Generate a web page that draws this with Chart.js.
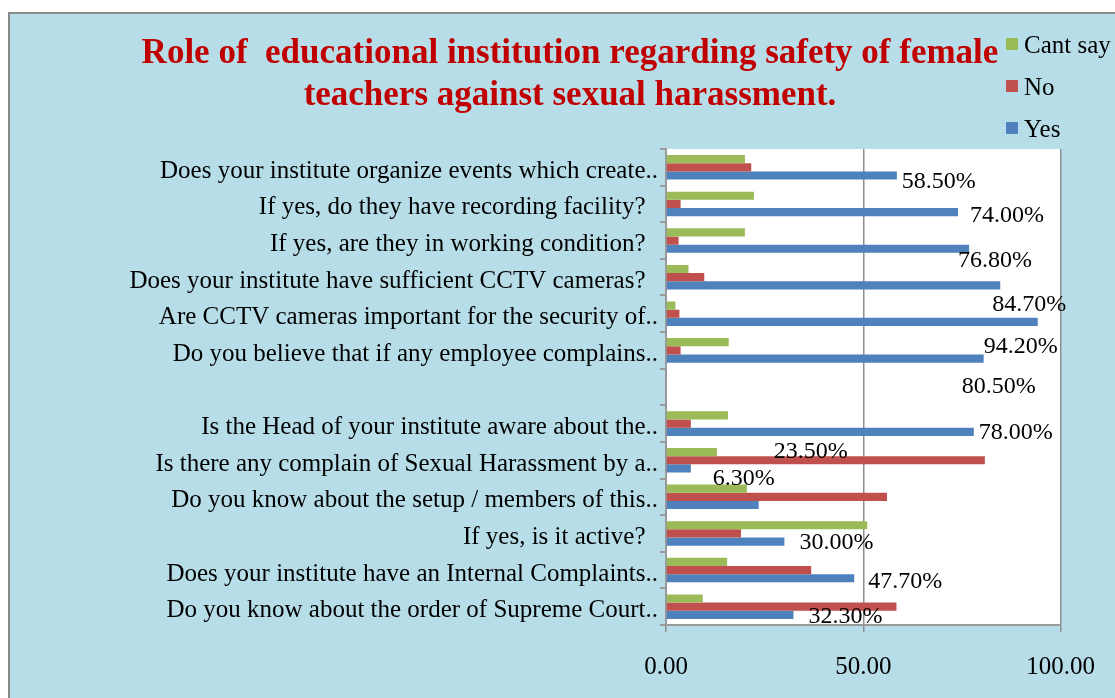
<!DOCTYPE html>
<html>
<head>
<meta charset="utf-8">
<script src="https://cdn.jsdelivr.net/npm/chart.js@4.4.1/dist/chart.umd.min.js"></script>
<style>
  html, body { margin: 0; padding: 0; background: #ffffff; }
  #wrap { width: 1115px; height: 698px; position: relative; }
  canvas { display: block; }
</style>
</head>
<body>
<div id="wrap"><canvas id="c" width="1115" height="698"></canvas></div>
<script>
// ---------- data ----------
const categories = [
  "Does your institute organize events which create..",
  "If yes, do they have recording facility?  ",
  "If yes, are they in working condition?  ",
  "Does your institute have sufficient CCTV cameras?  ",
  "Are CCTV cameras important for the security of..",
  "Do you believe that if any employee complains..",
  "",
  "Is the Head of your institute aware about the..",
  "Is there any complain of Sexual Harassment by a..",
  "Do you know about the setup / members of this..",
  "If yes, is it active?  ",
  "Does your institute have an Internal Complaints..",
  "Do you know about the order of Supreme Court.."
];
const seriesNames = ["Cant say", "No", "Yes"];
const cantSayValues = [20.0, 22.3, 20.0, 5.7, 2.4, 15.9, null, 15.7, 12.9, 20.5, 51.0, 15.5, 9.3];
const noValues      = [21.6, 3.7, 3.2, 9.7, 3.4, 3.7, null, 6.3, 80.8, 56.0, 19.0, 36.8, 58.4];
const yesValues     = [58.5, 74.0, 76.8, 84.7, 94.2, 80.5, null, 78.0, 6.3, 23.5, 30.0, 47.7, 32.3];
const xTickValues   = [0, 50, 100];
const titleLines = ["Role of  educational institution regarding safety of female", "teachers against sexual harassment."];

// label nudges (pixels, relative to end of the "Yes" bar) – placement only
const yesLabelNudge = [
  [5, 6], [12, 4], [-11, 12], [-8, 19], [-54, 25], [-22, 28], null,
  [5, 1], [22, 10], [15, -53], [15, 1], [14, 3], [15, 2]
];

const colors = { "Cant say": "#9BBB59", "No": "#C0504D", "Yes": "#4F81BD" };
const valuesBySeries = { "Cant say": cantSayValues, "No": noValues, "Yes": yesValues };
const SERIF = "'Liberation Serif', 'Times New Roman', serif";

const bgPlugin = {
  id: "bg",
  beforeDraw(chart) {
    const ctx = chart.ctx, a = chart.chartArea;
    ctx.save();
    ctx.fillStyle = "#ffffff";
    ctx.fillRect(0, 0, chart.width, chart.height);
    ctx.fillStyle = "#B7DEE8";
    ctx.fillRect(9, 13, chart.width, chart.height);
    ctx.strokeStyle = "#8A8A8A";
    ctx.lineWidth = 2;
    ctx.strokeRect(9, 13, chart.width + 10, chart.height + 10);
    ctx.fillStyle = "#ffffff";
    ctx.fillRect(a.left, a.top, a.right - a.left, a.bottom - a.top);
    ctx.restore();
  }
};

const textPlugin = {
  id: "texts",
  afterDraw(chart) {
    const ctx = chart.ctx;
    ctx.save();
    // title
    ctx.fillStyle = "#C00000";
    ctx.font = "bold 35px " + SERIF;
    ctx.textAlign = "center";
    ctx.textBaseline = "alphabetic";
    ctx.fillText(titleLines[0], 570, 63);
    ctx.fillText(titleLines[1], 570, 105);
    // legend
    ctx.font = "25px " + SERIF;
    ctx.textAlign = "left";
    seriesNames.forEach((name, i) => {
      const base = 53 + i * 42;
      ctx.fillStyle = colors[name];
      ctx.fillRect(1006, base - 15, 12, 12);
      ctx.fillStyle = "#000000";
      ctx.fillText(name, 1024, base);
    });
    // yes value labels
    const yesIdx = seriesNames.indexOf("Yes");
    const meta = chart.getDatasetMeta(yesIdx);
    ctx.font = "24px " + SERIF;
    ctx.textBaseline = "middle";
    ctx.fillStyle = "#000000";
    yesValues.forEach((v, i) => {
      if (v === null || !yesLabelNudge[i]) return;
      const el = meta.data[i];
      const [dx, dy] = yesLabelNudge[i];
      ctx.fillText(v.toFixed(2) + "%", el.x + dx, el.y + dy);
    });
    ctx.restore();
  }
};

new Chart(document.getElementById("c"), {
  type: "bar",
  data: {
    labels: categories,
    datasets: seriesNames.map(name => ({
      label: name,
      data: valuesBySeries[name],
      backgroundColor: colors[name],
      borderWidth: 0,
      barPercentage: 1.0,
      categoryPercentage: 0.67
    }))
  },
  options: {
    indexAxis: "y",
    responsive: false,
    animation: false,
    devicePixelRatio: 1,
    layout: { padding: { top: 149, right: 54, left: 0, bottom: 0 } },
    plugins: { legend: { display: false }, title: { display: false }, tooltip: { enabled: false } },
    scales: {
      x: {
        min: 0, max: 100,
        afterBuildTicks(scale) { scale.ticks = xTickValues.map(v => ({ value: v })); },
        afterFit(scale) { scale.height = 73; },
        ticks: {
          callback: v => Number(v).toFixed(2),
          color: "#000000",
          font: { family: SERIF, size: 25 },
          padding: 20,
          maxRotation: 0
        },
        grid: { color: "#8E8E8E", lineWidth: 1.5, drawTicks: true, tickLength: 7 },
        border: { display: true, color: "#9A9A9A", width: 2 }
      },
      y: {
        afterFit(scale) { scale.width = 666; },
        ticks: {
          color: "#000000",
          font: { family: SERIF, size: 25 },
          padding: 2,
          labelOffset: 4,
          autoSkip: false
        },
        grid: { drawOnChartArea: false, drawTicks: true, tickLength: 6, color: "#9A9A9A", lineWidth: 2, offset: true },
        border: { display: true, color: "#9A9A9A", width: 2 }
      }
    }
  },
  plugins: [bgPlugin, textPlugin]
});
</script>
</body>
</html>
